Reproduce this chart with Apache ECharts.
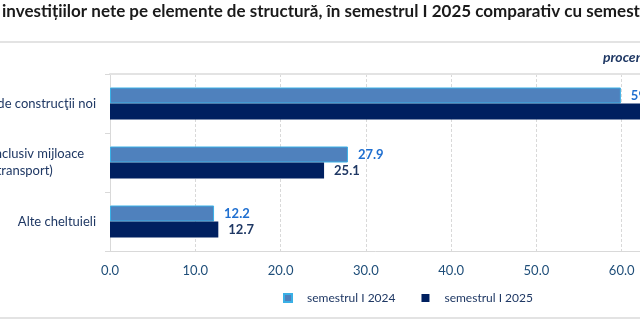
<!DOCTYPE html>
<html>
<head>
<meta charset="utf-8">
<script src="https://cdn.jsdelivr.net/npm/echarts@6/dist/echarts.min.js"></script>
<style>
html,body{margin:0;padding:0;background:#fff;}
#c{width:640px;height:322px;}
</style>
</head>
<body>
<div id="c"></div>
<script>
const titleText = 'investițiilor nete pe elemente de structură, în semestrul I 2025 comparativ cu semestrul I 2024';
const unitText = 'procente';
const categories = ['Lucrări de construcţii noi', 'Utilaje (inclusiv mijloace\nde transport)', 'Alte cheltuieli'];
const seriesNames = ['semestrul I 2024', 'semestrul I 2025'];
const s2024 = [59.9, 27.9, 12.2];
const s2025 = [62.2, 25.1, 12.7];
const xTicks = [0, 10, 20, 30, 40, 50, 60, 70];

const FONT = 'Lato, "Open Sans", sans-serif';
const cv = document.createElement('canvas').getContext('2d');
cv.font = '13px Lato';
const w1 = cv.measureText('Utilaje (inclusiv mijloace').width;
const boxW = Math.round(w1 + 24);

const chart = echarts.init(document.getElementById('c'), null, {renderer: 'canvas'});
chart.setOption({
  animation: false,
  backgroundColor: '#fff',
  title: {
    text: titleText, left: 2, top: 3, padding: 0,
    textStyle: {fontFamily: FONT, fontSize: 17, fontWeight: 'bold', color: '#1a1a1a'}
  },
  graphic: [
    {type: 'rect', shape: {x: 0, y: 41, width: 640, height: 2}, style: {fill: '#E3E3E3'}},
    {type: 'rect', shape: {x: 0, y: 317, width: 640, height: 2}, style: {fill: '#E3E3E3'}},
    {type: 'text', x: 603, y: 57, style: {text: unitText, fill: '#1F3864', font: 'italic bold 14px Lato', verticalAlign: 'middle'}}
  ],
  grid: {left: 110, top: 74, width: 597, height: 177, containLabel: false, outerBoundsMode: 'none'},
  xAxis: [{
    type: 'value', min: xTicks[0], max: xTicks[xTicks.length - 1], interval: 10,
    axisLine: {show: true, lineStyle: {color: '#D9D9D9', width: 1}},
    axisTick: {show: false},
    splitLine: {show: true, lineStyle: {color: '#D9D9D9', type: [3, 2], width: 1}},
    axisLabel: {formatter: v => v.toFixed(1), margin: 13, color: '#1F4E79', fontFamily: FONT, fontSize: 13}
  }, {
    type: 'value', position: 'top', min: 0, max: 70,
    axisLine: {show: true, lineStyle: {color: '#E3E3E3', width: 2}},
    axisTick: {show: false}, axisLabel: {show: false}, splitLine: {show: false}
  }],
  yAxis: {
    type: 'category', data: categories, inverse: true,
    axisLine: {show: true, lineStyle: {color: '#D9D9D9', width: 1}},
    axisTick: {show: true, length: 5, lineStyle: {color: '#D9D9D9'}},
    axisLabel: {
      margin: 14, color: '#1F3864', fontFamily: FONT, fontSize: 13, lineHeight: 17,
      formatter: (v, i) => {
        if (v.indexOf('\n') >= 0) {
          return v.split('\n').map(s => '{c|' + s + '}').join('\n');
        }
        return v;
      },
      rich: {c: {width: boxW, align: 'center', fontFamily: FONT, fontSize: 13, lineHeight: 17, color: '#1F3864'}}
    }
  },
  legend: {
    left: 278, top: 287, itemWidth: 8, itemHeight: 8, itemGap: 26, icon: 'rect',
    data: seriesNames,
    textStyle: {fontFamily: FONT, fontSize: 12, color: '#1F3864', padding: [0, 0, 0, 10]}
  },
  series: [{
    name: seriesNames[0], type: 'bar', data: s2024, barWidth: 16, barGap: '0%', xAxisIndex: 0,
    itemStyle: {color: '#4F81BD', borderColor: '#3AB0E6', borderWidth: 1},
    label: {show: true, position: 'right', distance: 10, formatter: p => p.value.toFixed(1),
      fontFamily: FONT, fontSize: 13, fontWeight: 'bold', color: '#1F6FD0'}
  }, {
    name: seriesNames[1], type: 'bar', data: s2025, barWidth: 16, xAxisIndex: 0,
    itemStyle: {color: '#002060'},
    label: {show: true, position: 'right', distance: 10, formatter: p => p.value.toFixed(1),
      fontFamily: FONT, fontSize: 13, fontWeight: 'bold', color: '#1F3864'}
  }]
});
</script>
</body>
</html>
